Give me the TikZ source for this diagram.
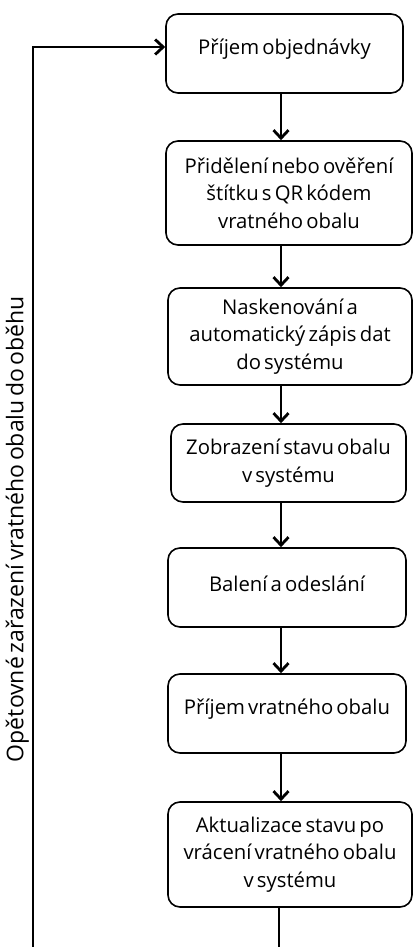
\documentclass[tikz,border=0pt]{standalone}
\usepackage{fontspec}
\setmainfont[WordSpace=0.6]{Open Sans}
\usetikzlibrary{arrows.meta,calc}
\newcommand{\upone}[1]{\raisebox{4pt}[\height][\depth]{#1}}
\begin{document}
\begin{tikzpicture}[x=1pt,y=-1pt,
  box/.style={draw=black,line width=1.6pt,rounded corners=12pt,align=center,
    inner sep=0pt,font=\fontsize{20.3}{27.5}\selectfont},
  flow/.style={line width=2.8pt,-{Straight Barb[length=8pt,width=15pt,line width=2.8pt]}},
  plain/.style={line width=2.8pt}]
\useasboundingbox (0,0) rectangle (413,947);
\node[box,minimum width=237pt,minimum height=79pt] (b1) at (284.5,53.5) {\upone{Příjem objednávky}};
\node[box,minimum width=246pt,minimum height=104pt] (b2) at (289,193) {Přidělení nebo ověření\\štítku s QR kódem\\vratného obalu};
\node[box,minimum width=244pt,minimum height=97pt] (b3) at (290,336.5) {Naskenování a\\automatický zápis dat\\do systému};
\node[box,minimum width=235pt,minimum height=78pt] (b4) at (288.5,463) {Zobrazení stavu obalu\\v systému};
\node[box,minimum width=238pt,minimum height=79pt] (b5) at (287,587.5) {\upone{Balení a odeslání}};
\node[box,minimum width=238pt,minimum height=79pt] (b6) at (287,713.5) {\upone{Příjem vratného obalu}};
\node[box,minimum width=244pt,minimum height=105pt] (b7) at (290,854.5) {Aktualizace stavu po\\vrácení vratného obalu\\v systému};
\coordinate (ax) at (281,0);
\coordinate (bx) at (279,0);
\coordinate (endbot) at (279,947);
\coordinate (loopbot) at (33,947);
\coordinate (looptop) at (0,47);
\draw[flow] (b1.south -| ax) -- (b2.north -| ax);
\draw[flow] (b2.south -| ax) -- (b3.north -| ax);
\draw[flow] (b3.south -| ax) -- (b4.north -| ax);
\draw[flow] (b4.south -| ax) -- (b5.north -| ax);
\draw[flow] (b5.south -| ax) -- (b6.north -| ax);
\draw[flow] (b6.south -| ax) -- (b7.north -| ax);
\draw[plain] (b7.south -| bx) -- (endbot);
\draw[flow] (loopbot) |- (b1.west |- looptop);
\node[rotate=90,anchor=south,inner sep=2pt] (lbl) at (31,529) {\resizebox{466pt}{!}{Opětovné zařazení vratného obalu do oběhu}};
\end{tikzpicture}
\end{document}
